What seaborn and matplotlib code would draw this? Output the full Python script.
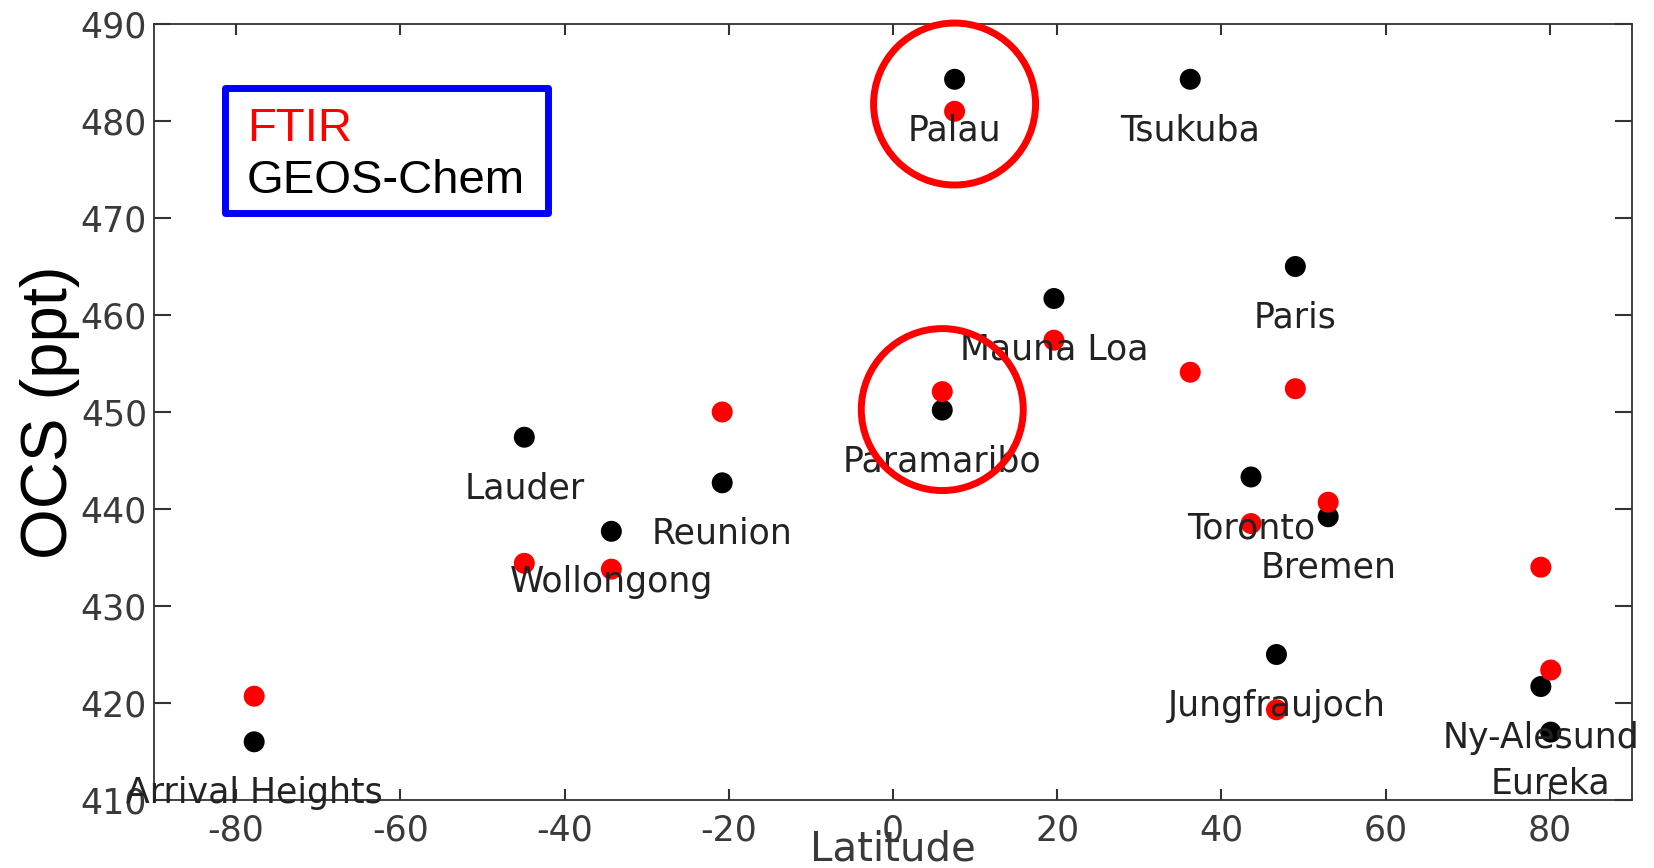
import matplotlib
matplotlib.use("Agg")
import matplotlib.pyplot as plt
from matplotlib.patches import Rectangle
import pandas as pd
import seaborn as sns

# Ground-based FTIR stations: latitude and mean OCS column-averaged mixing ratio (ppt)
stations = ["Arrival Heights", "Lauder", "Wollongong", "Reunion", "Paramaribo",
            "Palau", "Mauna Loa", "Tsukuba", "Toronto", "Jungfraujoch",
            "Paris", "Bremen", "Ny-Alesund", "Eureka"]
latitude = [-77.8, -44.9, -34.3, -20.8, 6.0, 7.5, 19.6, 36.2, 43.6, 46.7,
            49.0, 53.0, 78.9, 80.1]
ftir_ocs = [420.7, 434.4, 433.8, 450.0, 452.1, 481.0, 457.4, 454.1, 438.5, 419.3,
            452.4, 440.7, 434.0, 423.4]
geos_chem_ocs = [416.0, 447.4, 437.7, 442.7, 450.2, 484.3, 461.7, 484.3, 443.3, 425.0,
                 465.0, 439.2, 421.7, 417.0]
highlighted = ["Palau", "Paramaribo"]

x_ticks = [-80, -60, -40, -20, 0, 20, 40, 60, 80]
y_ticks = [410, 420, 430, 440, 450, 460, 470, 480, 490]

sns.set_style("ticks")
plt.rcParams["font.family"] = ["DejaVu Sans"]
plt.rcParams["axes.unicode_minus"] = False

n = len(stations)
df = pd.DataFrame({
    "station": stations * 2,
    "Latitude": latitude * 2,
    "OCS": geos_chem_ocs + ftir_ocs,
    "source": ["GEOS-Chem"] * n + ["FTIR"] * n,
})

fig = plt.figure(figsize=(16.54, 8.68), dpi=100)
ax = fig.add_axes([154 / 1654, 68 / 868, 1478 / 1654, 776 / 868])

sns.scatterplot(data=df, x="Latitude", y="OCS", hue="source",
                palette={"FTIR": "red", "GEOS-Chem": "black"},
                s=228, linewidth=0, legend=False, ax=ax, zorder=2)

# station names below the model value
for name, lat, val in zip(stations, latitude, geos_chem_ocs):
    ax.text(lat, val - 6.3, name, ha="center", va="baseline",
            fontsize=25, color="#222222", zorder=3)

# red rings around the tropical stations (centred a little below the pair midpoint)
hl = df[df["station"].isin(highlighted)].groupby("station", as_index=False)[["Latitude", "OCS"]].mean()
ax.scatter(hl["Latitude"], hl["OCS"] - 0.9, s=13600, facecolors="none",
           edgecolors="red", linewidths=5, zorder=4, clip_on=False)

ax.set_xlim(-90, 90)
ax.set_ylim(410, 490)
ax.set_xticks(x_ticks)
ax.set_yticks(y_ticks)

for sp in ax.spines.values():
    sp.set_visible(True)
    sp.set_color("#333333")
    sp.set_linewidth(1.3)

ax.tick_params(axis="both", which="major", direction="in", top=True, right=True,
               width=1.5, color="#333333", labelsize=25, labelcolor="#3a3a3a")
ax.tick_params(axis="x", length=8, pad=10)
ax.tick_params(axis="y", length=12, pad=5)

ax.set_xlabel("Latitude", fontsize=29, color="#3a3a3a")
ax.xaxis.set_label_coords(0.5, -0.0374)
ax.set_ylabel("OCS (ppt)", fontsize=47, family=["Liberation Sans", "DejaVu Sans"], color="black")
ax.yaxis.set_label_coords(-0.0504, 0.5)

# key box
ax.add_patch(Rectangle((0.0482, 0.7558), 0.2185, 0.1611, transform=ax.transAxes,
                       facecolor="white", edgecolor="blue", linewidth=5,
                       joinstyle="round", zorder=5))
ax.text(0.0627, 0.8492, "FTIR", transform=ax.transAxes, color="red",
        fontsize=34, family=["Liberation Sans", "DejaVu Sans"], va="baseline", zorder=6)
ax.text(0.0627, 0.7822, "GEOS-Chem", transform=ax.transAxes, color="black",
        fontsize=34, family=["Liberation Sans", "DejaVu Sans"], va="baseline", zorder=6)

fig.savefig("out.png", dpi=100)
